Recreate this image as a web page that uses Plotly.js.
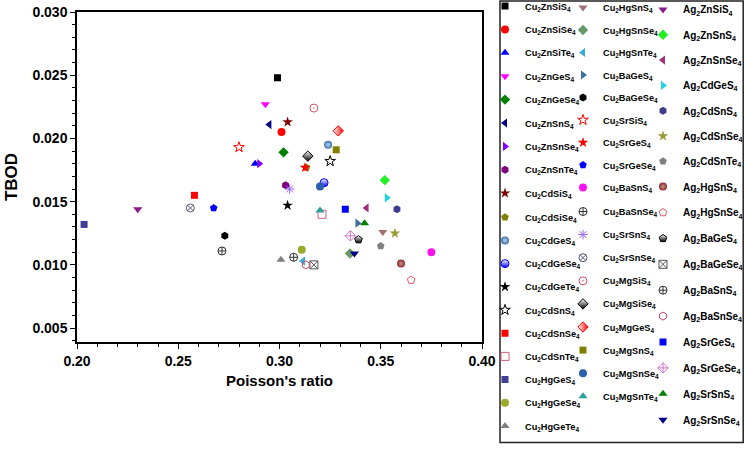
<!DOCTYPE html>
<html>
<head>
<meta charset="utf-8">
<script src="https://cdn.plot.ly/plotly-3.0.1.min.js"></script>
<style>html,body{margin:0;padding:0;background:#fff;}#chart{width:744px;height:462px;}</style>
</head>
<body>
<div id="chart"></div>
<script>
// ---- data ----
const compounds = [
  'Cu2ZnSiS4','Cu2ZnSiSe4','Cu2ZnSiTe4','Cu2ZnGeS4','Cu2ZnGeSe4','Cu2ZnSnS4','Cu2ZnSnSe4','Cu2ZnSnTe4',
  'Cu2CdSiS4','Cu2CdSiSe4','Cu2CdGeS4','Cu2CdGeSe4','Cu2CdGeTe4','Cu2CdSnS4','Cu2CdSnSe4','Cu2CdSnTe4',
  'Cu2HgGeS4','Cu2HgGeSe4','Cu2HgGeTe4',
  'Cu2HgSnS4','Cu2HgSnSe4','Cu2HgSnTe4','Cu2BaGeS4','Cu2BaGeSe4','Cu2SrSiS4','Cu2SrGeS4','Cu2SrGeSe4',
  'Cu2BaSnS4','Cu2BaSnSe4','Cu2SrSnS4','Cu2SrSnSe4','Cu2MgSiS4','Cu2MgSiSe4','Cu2MgGeS4','Cu2MgSnS4',
  'Cu2MgSnSe4','Cu2MgSnTe4',
  'Ag2ZnSiS4','Ag2ZnSnS4','Ag2ZnSnSe4','Ag2CdGeS4','Ag2CdSnS4','Ag2CdSnSe4','Ag2CdSnTe4','Ag2HgSnS4',
  'Ag2HgSnSe4','Ag2BaGeS4','Ag2BaGeSe4','Ag2BaSnS4','Ag2BaSnSe4','Ag2SrGeS4','Ag2SrGeSe4','Ag2SrSnS4',
  'Ag2SrSnSe4'
];
const poissonRatio = [
  0.299, 0.301, 0.288, 0.293, 0.302, 0.295, 0.290, 0.303,
  0.304, 0.3133, 0.324, 0.322, 0.304, 0.325, 0.258, 0.321,
  0.2035, 0.311, 0.3007,
  0.351, 0.3348, 0.3116, 0.3385, 0.273, 0.280, 0.3126, 0.2675,
  0.375, 0.2716, 0.305, 0.256, 0.317, 0.314, 0.329, 0.328,
  0.320, 0.320,
  0.230, 0.352, 0.343, 0.353, 0.358, 0.357, 0.350, 0.360,
  0.365, 0.339, 0.317, 0.307, 0.313, 0.3325, 0.335, 0.342,
  0.337
];
const tbod = [
  0.0248, 0.0205, 0.0180, 0.0227, 0.0189, 0.0211, 0.0180, 0.0163,
  0.0213, 0.0177, 0.0195, 0.0165, 0.0147, 0.0182, 0.0155, 0.0140,
  0.0132, 0.0112, 0.0104,
  0.0126, 0.0109, 0.0103, 0.0133, 0.0123, 0.0193, 0.0177, 0.0145,
  0.0110, 0.0111, 0.0160, 0.0145, 0.0224, 0.0186, 0.0206, 0.0191,
  0.0162, 0.0143,
  0.0144, 0.0167, 0.0145, 0.0153, 0.0144, 0.0125, 0.0115, 0.0101,
  0.0088, 0.0120, 0.0100, 0.0106, 0.0100, 0.0144, 0.0123, 0.0133,
  0.0109
];
const xTickValues = [0.20, 0.25, 0.30, 0.35, 0.40];
const yTickValues = [0.005, 0.010, 0.015, 0.020, 0.025, 0.030];

// ---- marker styles (symbol, colour, optional gradient type, gradient colour, outline) ----
const markerStyles = [
  ['square','#000000'],['circle','#ff0000'],['triangle-up','#0000ff'],['triangle-down','#ff00ff'],
  ['diamond','#008000'],['triangle-left','#000080'],['triangle-right','#8000ff'],['hexagon','#800080'],
  ['star','#800000'],['pentagon','#808000'],['circle','#3a6fb0','radial','#b8d4f4'],['circle','#ffffff','vertical','#0000ff','#0000ff'],
  ['star','#000000'],['star-open','#000000'],['square','#ff0000'],['square-open','#d06070'],
  ['square','#3f3f9a'],['circle','#9aaa2a'],['triangle-up','#808080'],
  ['triangle-down','#a07070'],['diamond','#669966'],['triangle-left','#3caad8'],['triangle-right','#3a6ea5'],
  ['hexagon','#000000'],['star-open','#ff0000'],['star','#ff0000'],['pentagon','#0000ff'],
  ['circle','#ff11ee'],['circle-cross-open','#333333'],['asterisk-open','#9966ee'],['circle-x-open','#555577'],
  ['circle-open-dot','#cc5566'],['diamond','#ffffff','vertical','#000000','#000000'],['diamond','#ffffff','horizontal','#ff0000','#ff0000'],
  ['square','#808000'],['circle','#2b5fae'],['triangle-up','#2a9d9d'],
  ['triangle-down','#8b1a8b'],['diamond','#22ee22'],['triangle-left','#a0307a'],['triangle-right','#22d4e0'],
  ['hexagon','#3d3d8f'],['star','#999933'],['pentagon','#808080'],['circle','#8e2a2a','radial','#c89090'],
  ['pentagon-open','#dd5566'],['pentagon','#ffffff','vertical','#000000','#000000'],['square-x-open','#555555'],['circle-cross-open','#333333'],
  ['hexagon-open','#cc4466'],['square','#0000ff'],['diamond-cross-open','#cc77cc'],['triangle-up','#008000'],
  ['triangle-down','#000080']
];

function subscript(s){ return s.replace(/(\d)/g, '<sub>$1</sub>'); }
// three legend columns, each split in two blocks (Plotly limits a single legend's height)
function legendFor(i){
  if (i < 9) return 'legend';
  if (i < 19) return 'legend4';
  if (i < 28) return 'legend2';
  if (i < 37) return 'legend5';
  if (i < 45) return 'legend3';
  return 'legend6';
}

const traces = compounds.map(function(name, i){
  const st = markerStyles[i];
  const sym = st[0];
  const isOpen = /open/.test(sym);
  const marker = {
    symbol: sym,
    color: st[1],
    size: sym === 'square' ? 7 : 8,
    line: {width: isOpen ? 1 : 0, color: st[1]}
  };
  if (st[2]) {
    marker.gradient = {type: st[2], color: st[3]};
    if (st[4]) marker.line = {width: 1, color: st[4]};
  }
  return {
    type: 'scatter', mode: 'markers',
    x: [poissonRatio[i]], y: [tbod[i]],
    name: subscript(name),
    legendgroup: 'g' + i,
    legend: legendFor(i),
    marker: marker,
    hoverinfo: 'name+x+y'
  };
});

const fontFam = 'Liberation Sans, Arial, sans-serif';
const W = 744, H = 462, L = 77, R = 262, T = 12, B = 120;
const pw = W - L - R, ph = H - T - B;
function px2x(p){ return (p - L) / pw; }
function px2y(p){ return (H - B - p) / ph; }

const axisCommon = {
  showgrid: false, zeroline: false, showline: true, mirror: true,
  linecolor: '#000', linewidth: 1.5,
  ticks: 'outside', ticklen: 5, tickwidth: 1, tickcolor: '#000',
  tickfont: {family: fontFam, size: 14, color: '#000', weight: 'bold'},
  automargin: false
};

function legendBlock(leftPx, topPx, gap, size){
  return {
    x: px2x(leftPx), y: px2y(topPx), xanchor: 'left', yanchor: 'top',
    traceorder: 'grouped', tracegroupgap: gap, borderwidth: 0, bgcolor: 'rgba(0,0,0,0)',
    font: {family: fontFam, size: size, weight: 'bold', color: '#000'}
  };
}

const layout = {
  width: W, height: H,
  margin: {l: L, r: R, t: T, b: B, autoexpand: false},
  paper_bgcolor: '#fff', plot_bgcolor: '#fff',
  font: {family: fontFam, color: '#000'},
  xaxis: Object.assign({}, axisCommon, {
    range: [0.20, 0.40], tickvals: xTickValues, tickformat: '.2f',
    minor: {dtick: 0.01, tick0: 0, ticks: 'outside', ticklen: 3, tickcolor: '#000'},
    title: {text: "Poisson's ratio", font: {family: fontFam, size: 15, weight: 'bold', color: '#000'}, standoff: 8}
  }),
  yaxis: Object.assign({}, axisCommon, {
    range: [0.0039, 0.030], tickvals: yTickValues, tickformat: '.3f',
    minor: {dtick: 0.001, tick0: 0, ticks: 'outside', ticklen: 3, tickcolor: '#000'},
    title: {text: 'TBOD', font: {family: fontFam, size: 17, weight: 'bold', color: '#000'}, standoff: 10}
  }),
  legend:  legendBlock(485, -8.5, 4.4, 9.2),
  legend4: legendBlock(485, 202.7, 4.2, 9.2),
  legend2: legendBlock(563, -7, 3.5, 9.2),
  legend5: legendBlock(563, 197, 4.1, 9.2),
  legend3: legendBlock(643, -5, 6.3, 10),
  legend6: legendBlock(643, 198, 6.9, 10),
  shapes: [{
    type: 'rect', xref: 'paper', yref: 'paper',
    x0: px2x(500), x1: px2x(743.2), y0: px2y(442.5), y1: px2y(1),
    line: {color: '#222', width: 1.5}, fillcolor: 'rgba(0,0,0,0)', layer: 'above'
  }],
  showlegend: true
};

Plotly.newPlot('chart', traces, layout, {displayModeBar: false});
</script>
</body>
</html>
